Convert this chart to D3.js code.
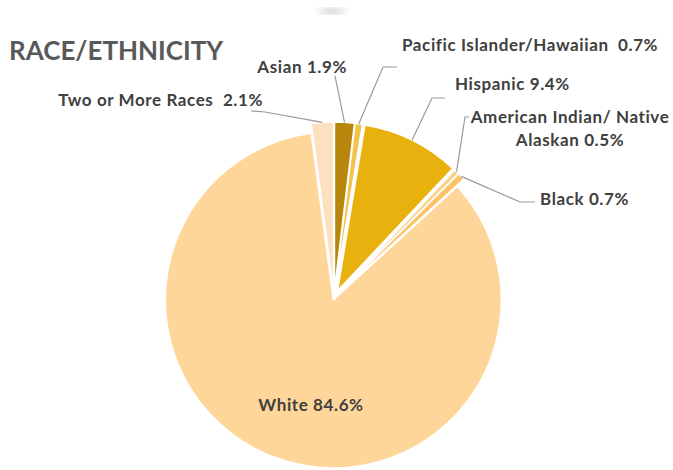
<!DOCTYPE html>
<html>
<head>
<meta charset="utf-8">
<script src="https://cdn.jsdelivr.net/npm/d3@7"></script>
<style>
  body { margin: 0; background: #fff; }
  text { font-family: Lato, "Open Sans", sans-serif; font-weight: bold; white-space: pre; }
</style>
</head>
<body>
<div id="chart"></div>
<script>
// Data
const categories = ["Asian", "Pacific Islander/Hawaiian", "Hispanic", "American Indian/ Native Alaskan",
                    "Black", "White", "Two or More Races"];
const percents = [1.9, 0.7, 9.4, 0.5, 0.7, 84.6, 2.1];
const labelTexts = [["Asian 1.9%"], ["Pacific Islander/Hawaiian  0.7%"], ["Hispanic 9.4%"],
                    ["American Indian/ Native", "Alaskan 0.5%"], ["Black 0.7%"], ["White 84.6%"],
                    ["Two or More Races  2.1%"]];

// Styles / layout
const colors = ["#b8860b", "#f3c24a", "#e9b10e", "#fdd08a", "#fcc264", "#ffd699", "#fde0bf"];
const explode = [8, 8, 8, 8, 8, 2, 8];
const width = 673, height = 470;
const cx = 334, cy = 298, radius = 168;

// label anchor + leader elbow points (annotation layout)
const labelLayout = [
  { x: 347, y: 73, anchor: "end", path: [[335, 76]] },
  { x: 402, y: 51, anchor: "start", path: [[397, 67], [383, 67]] },
  { x: 455, y: 90, anchor: "start", path: [[445, 98], [432, 98]] },
  { x: 570, y: 123, anchor: "middle", path: [[469, 117], [465, 117]] },
  { x: 540, y: 205, anchor: "start", path: [[535, 202], [520, 202]] },
  { x: 311, y: 411, anchor: "middle", path: null },
  { x: 263, y: 106, anchor: "end", path: [[251, 111], [265, 112]] }
];

const svg = d3.select("#chart")
    .append("svg")
    .attr("width", width)
    .attr("height", height);

// faint shadow at the top
const defs = svg.append("defs");
defs.append("filter").attr("id", "blur")
    .append("feGaussianBlur").attr("stdDeviation", 3);
svg.append("ellipse")
    .attr("cx", 332).attr("cy", 11).attr("rx", 14).attr("ry", 3)
    .attr("fill", "#d0d0d0")
    .attr("filter", "url(#blur)");

// Title
svg.append("text")
    .attr("x", 9)
    .attr("y", 60)
    .attr("fill", "#595959")
    .style("font-size", "26px")
    .text("RACE/ETHNICITY");

const data = categories.map((c, i) => ({ name: c, value: percents[i], i: i }));

const pie = d3.pie().sort(null).value(d => d.value).startAngle(0).endAngle(2 * Math.PI);
const arcs = pie(data);

const arc = d3.arc().innerRadius(0).outerRadius(radius);
const edgeArc = d3.arc().innerRadius(radius).outerRadius(radius);

const g = svg.append("g").attr("transform", `translate(${cx},${cy})`);

function offset(d) {
    const mid = (d.startAngle + d.endAngle) / 2;
    const e = explode[d.data.i];
    return [e * Math.sin(mid), -e * Math.cos(mid)];
}

g.selectAll("path.slice")
    .data(arcs)
    .enter()
    .append("path")
    .attr("class", "slice")
    .attr("transform", d => { const o = offset(d); return `translate(${o[0]},${o[1]})`; })
    .attr("d", arc)
    .attr("fill", d => colors[d.data.i])
    .attr("stroke", "#fff")
    .attr("stroke-width", 1.5)
    .attr("stroke-linejoin", "round");

// Leader lines
arcs.forEach(d => {
    const lay = labelLayout[d.data.i];
    if (!lay.path) return;
    const o = offset(d);
    const c = edgeArc.centroid(d);
    const p0 = [cx + c[0] + o[0], cy + c[1] + o[1]];
    const pts = lay.path.concat([p0]);
    svg.append("path")
        .attr("d", d3.line()(pts))
        .attr("fill", "none")
        .attr("stroke", "#9a9a9a")
        .attr("stroke-width", 1.2);
});

// Labels
arcs.forEach(d => {
    const lay = labelLayout[d.data.i];
    const t = svg.append("text")
        .attr("x", lay.x)
        .attr("y", lay.y)
        .attr("text-anchor", lay.anchor)
        .attr("fill", "#404040")
        .style("font-size", "17px")
        .style("letter-spacing", "0.6px");
    labelTexts[d.data.i].forEach((line, k) => {
        t.append("tspan")
            .attr("x", lay.x)
            .attr("dy", k === 0 ? 0 : 23)
            .text(line);
    });
});
</script>
</body>
</html>
